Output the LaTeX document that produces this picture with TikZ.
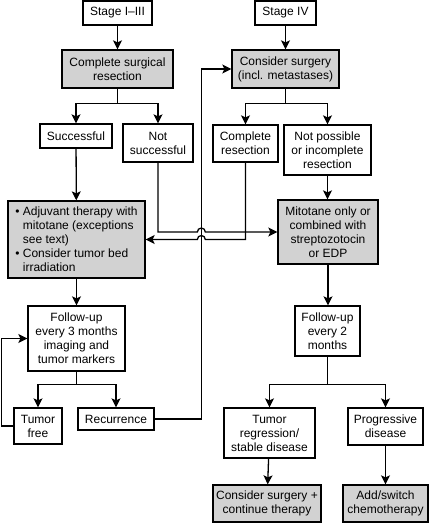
\documentclass[tikz,border=0pt]{standalone}
\usepackage{fontspec}
\setmainfont{Liberation Sans}
\usepackage{xcolor}
\usetikzlibrary{arrows.meta,positioning,calc}
\definecolor{boxgray}{HTML}{D2D2D2}

\begin{document}
\begin{tikzpicture}[x=1pt, y=-1pt,
  font=\fontsize{12}{14}\selectfont,
  box/.style={draw, line width=1.3pt, align=center, inner sep=2pt},
  gbox/.style={box, fill=boxgray},
  stage/.style={box, line width=2pt, minimum height=24pt},
  arr/.style={-{Stealth[length=9pt,width=9pt,inset=2pt]}, line width=1.3pt}]
\useasboundingbox (0,0) rectangle (431,523);
% stage I-III column
\node[stage, minimum width=69pt] (stA) at (117.5,13) {Stage I--III};
\node[gbox, minimum width=111pt, minimum height=38pt] (csr) at (117.5,69) {Complete surgical\\resection};
\node[box, minimum width=72pt, minimum height=24pt] (succ) at (76,136) {Successful};
\node[box, minimum width=70pt, minimum height=38pt] (nsucc) at (158,143) {Not\\successful};
\node[gbox, minimum width=137pt, minimum height=77pt, align=left] (adj) at (76.5,239.5)
  {\textbullet\ Adjuvant therapy with\\\phantom{\textbullet\ }mitotane (exceptions\\\phantom{\textbullet\ }see text)\\\textbullet\ Consider tumor bed\\\phantom{\textbullet\ }irradiation};
\node[box, minimum width=97pt, minimum height=65pt] (fu3) at (76.5,338.5) {Follow-up\\every 3 months\\imaging and\\tumor markers};
\node[box, minimum width=48pt, minimum height=36pt] (tf) at (38,426) {Tumor\\free};
\node[box, minimum width=76pt, minimum height=22pt] (rec) at (116,419) {Recurrence};
% stage IV column
\node[stage, minimum width=61pt] (stB) at (285.5,13) {Stage IV};
\node[gbox, minimum width=107pt, minimum height=38pt] (cs) at (285.5,69) {Consider surgery\\(incl. metastases)};
\node[box, minimum width=65pt, minimum height=37pt] (cres) at (245.5,143.5) {Complete\\resection};
\node[box, minimum width=87pt, minimum height=50pt] (npos) at (327.5,150) {Not possible\\or incomplete\\resection};
\node[gbox, minimum width=100pt, minimum height=64pt] (mit) at (328,232) {Mitotane only or\\combined with\\streptozotocin\\or EDP};
\node[box, minimum width=65pt, minimum height=50pt] (fu2) at (327.5,331) {Follow-up\\every 2\\months};
\node[box, minimum width=91pt, minimum height=50pt] (treg) at (269.5,433) {Tumor\\regression/\\stable disease};
\node[box, minimum width=75pt, minimum height=37pt] (prog) at (385.5,426.5) {Progressive\\disease};
\node[gbox, minimum width=108pt, minimum height=37pt] (csct) at (267,503.5) {Consider surgery +\\continue therapy};
\node[gbox, minimum width=85pt, minimum height=37pt] (addsw) at (385.5,503.5) {Add/switch\\chemotherapy};
\coordinate (loopx) at ([xshift=-30pt]cs.west);
% connectors
\draw[arr] (stA) -- (csr);
\draw[arr] (csr.south) -- ++(0,15) -| (succ.north);
\draw[arr] (csr.south) -- ++(0,15) -| (nsucc.north);
\draw[arr] (succ) -- (adj);
\draw[arr] (adj) -- (fu3);
\draw[arr] (fu3.south) -- ++(0,13) -| (tf.north);
\draw[arr] (fu3.south) -- ++(0,13) -| (rec.north);
\draw[arr] (tf.west) -- ++(-12,0) |- (fu3.west);
\draw[arr] (rec.east) -| (loopx) -- (cs.west);
\draw[arr] (stB) -- (cs);
\draw[arr] (cs.south) -- ++(0,15) -| (cres.north);
\draw[arr] (cs.south) -- ++(0,15) -| (npos.north);
\draw[arr] (npos) -- (npos |- mit.north);
\draw[arr] (nsucc.south) |- ($(loopx |- mit.west)+(-4,0)$)
  arc[start angle=180, end angle=0, radius=4pt] -- (mit.west);
\draw[arr] (cres.south) |- ($(loopx |- adj.east)+(4,0)$)
  arc[start angle=0, end angle=180, radius=4pt] -- (adj.east);
\draw[arr] (mit.south) -- (mit.south |- fu2.north);
\draw[arr] (fu2.south) -- ++(0,28) -| (treg.north);
\draw[arr] (fu2.south) -- ++(0,28) -| (prog.north);
\draw[arr] (treg) -- (csct);
\draw[arr] (prog) -- (addsw);
\end{tikzpicture}
\end{document}
